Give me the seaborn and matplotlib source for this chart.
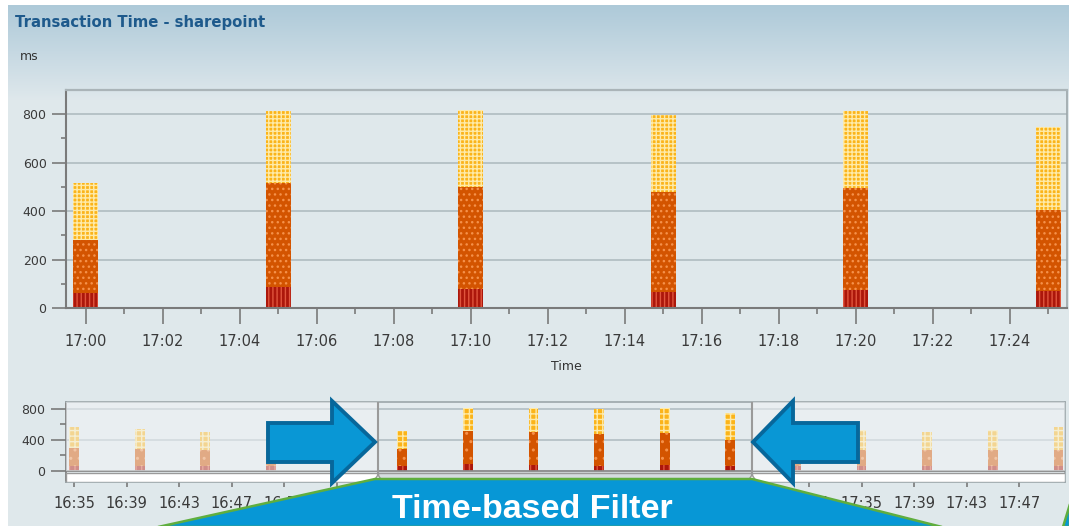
import numpy as np
import pandas as pd
import matplotlib
matplotlib.use("Agg")
import matplotlib.pyplot as plt
from matplotlib.patches import Polygon, Rectangle
import seaborn as sns

plt.rcParams['font.family'] = ['DejaVu Sans']
plt.rcParams['hatch.linewidth'] = 1.0

# 데이터 (5분 간격 트랜잭션 시간, ms)
times = ["16:35", "16:40", "16:45", "16:50", "16:55", "17:00", "17:05", "17:10",
         "17:15", "17:20", "17:25", "17:30", "17:35", "17:40", "17:45", "17:50"]
red_ms = [65, 62, 60, 65, 65, 62, 87, 78, 66, 74, 70, 65, 65, 62, 65, 65]
orange_ms = [232, 218, 215, 215, 220, 218, 428, 421, 412, 421, 334, 215, 205, 208, 205, 205]
yellow_ms = [271, 262, 232, 260, 235, 235, 297, 317, 318, 317, 342, 260, 260, 237, 260, 298]

main_ticks = ["17:00", "17:02", "17:04", "17:06", "17:08", "17:10", "17:12",
              "17:14", "17:16", "17:18", "17:20", "17:22", "17:24"]
ov_ticks = ["16:35", "16:39", "16:43", "16:47", "16:51", "16:55", "16:59", "17:03",
            "17:07", "17:11", "17:15", "17:19", "17:23", "17:27", "17:31", "17:35",
            "17:39", "17:43", "17:47"]
main_yticks = [0, 200, 400, 600, 800]
ov_yticks = [0, 400, 800]

main_window = ("17:00", "17:25")        # 상세 차트에 표시되는 구간
main_xrange = ("16:59:29", "17:25:29")
ov_xrange = ("16:34:23", "17:50:30")
selection = ("16:58:10", "17:26:40")    # 시간 필터 선택 구간
covered = ("16:53", "17:29")            # 콜아웃에 가려지는 눈금 라벨

W, H = 1069, 526
base = pd.Timestamp("2000-01-01 16:35")


def to_min(labels):
    t = pd.to_datetime(["2000-01-01 " + s for s in labels])
    return np.asarray((t - base).total_seconds() / 60.0)


def fx(x):
    return x / W


def fy(y):
    return 1 - y / H


df = pd.DataFrame({"time": times, "red": red_ms, "orange": orange_ms, "yellow": yellow_ms})
df["minute"] = to_min(df["time"])
df["lvl1"] = df["red"]
df["lvl2"] = df["red"] + df["orange"]
df["lvl3"] = df["lvl2"] + df["yellow"]

fig = plt.figure(figsize=(W / 100, H / 100), dpi=100)

# 배경 그라데이션
bg = fig.add_axes([0, 0, 1, 1], zorder=-10)
rows = np.arange(H)
top = np.array([0.68, 0.79, 0.85])
mid = np.array([0.875, 0.91, 0.925])
t = np.clip((rows - 5) / 95.0, 0, 1)[:, None]
col = top * (1 - t) + mid * t
img = np.repeat(col[:, None, :], W, axis=1)
img[:5, :, :] = 1.0
img[:, :8, :] = 1.0
bg.imshow(img, extent=[0, W, H, 0], aspect="auto")
bg.set_xlim(0, W)
bg.set_ylim(H, 0)
bg.axis("off")

layers = [("lvl3", "#fbb41a", "#feeaa8", "++++"),
          ("lvl2", "#d35400", "#f5914a", "..."),
          ("lvl1", "#ac170b", "#e0553d", "||||")]


def draw_stack(ax, data, width, hatches=None):
    for i, (col_name, face, hcol, hatch) in enumerate(layers):
        h = hatch if hatches is None else hatches[i]
        sns.barplot(data=data, x="minute", y=col_name, native_scale=True, orient="x",
                    width=width, color=face, edgecolor=hcol, linewidth=0, hatch=h,
                    saturation=1, errorbar=None, ax=ax, zorder=2)


# 메인 차트
ax = fig.add_axes([fx(66), fy(308), (1067 - 66) / W, (308 - 90) / H])
ax.set_facecolor("none")
win = df[(df["minute"] >= to_min([main_window[0]])[0]) & (df["minute"] <= to_min([main_window[1]])[0])]
draw_stack(ax, win, 0.13)
ax.set_ylim(0, 899)
ax.set_xlim(*to_min(main_xrange))
mt = to_min(main_ticks)
ax.set_xticks(mt)
ax.set_xticklabels(main_ticks)
ax.set_xticks(mt + 1, minor=True)
ax.set_yticks(main_yticks)
ax.set_yticks([100, 300, 500, 700], minor=True)
ax.set_xlabel("")
ax.set_ylabel("")
ax.yaxis.grid(True, which="major", color="#b6c2c7", lw=1.4, zorder=1)
ax.tick_params(axis="x", which="major", length=11.5, width=1.2, color="#7a7a7a",
               labelsize=10.5, labelcolor="#3a3a3a", pad=7)
ax.tick_params(axis="x", which="minor", length=4.3, width=1.2, color="#7a7a7a")
ax.tick_params(axis="y", which="major", length=10, width=1.2, color="#7a7a7a",
               labelsize=9, labelcolor="#3a3a3a", pad=4)
ax.tick_params(axis="y", which="minor", length=3.6, width=1.2, color="#7a7a7a")
for s in ["left", "bottom"]:
    ax.spines[s].set_color("#7a7a7a")
    ax.spines[s].set_linewidth(1.5)
ax.spines["top"].set_color("#aab4b8")
ax.spines["top"].set_linewidth(1.6)
ax.spines["right"].set_color("#9ca6aa")
ax.spines["right"].set_linewidth(1.2)

# 개요 차트 (시간 필터)
ov = fig.add_axes([fx(66), fy(482), (1065 - 66) / W, (482 - 402) / H])
ov.set_facecolor("#e4ebee")
draw_stack(ov, df, 0.15, hatches=["+++", "..", "|||"])
ov_top = 890
ov.set_ylim(-142, ov_top)
x0, x1 = to_min(ov_xrange)
ov.set_xlim(x0, x1)
ot = to_min(ov_ticks)
c0, c1 = to_min(covered)
ov.set_xticks(ot)
ov.set_xticklabels([lab if not (c0 < m < c1) else "" for lab, m in zip(ov_ticks, ot)])
ov.set_yticks(ov_yticks)
ov.set_yticks([200, 600], minor=True)
ov.set_xlabel("")
ov.set_ylabel("")
for yv in [400, 800]:
    ov.axhline(yv, color="#b6c2c7", lw=1.3, zorder=1)
ov.axhline(0, color="#8a8a8a", lw=1.3, zorder=3)
ov.tick_params(axis="x", length=3.8, width=1.2, color="#7a7a7a", labelsize=10.5,
               labelcolor="#3a3a3a", pad=6)
ov.tick_params(axis="y", which="major", length=11, width=1.2, color="#7a7a7a",
               labelsize=9, labelcolor="#3a3a3a", pad=4)
ov.tick_params(axis="y", which="minor", length=4, width=1.2, color="#7a7a7a")
for s in ov.spines.values():
    s.set_color("#9ca6aa")
    s.set_linewidth(1.2)
ov.spines["left"].set_color("#7a7a7a")

s0, s1 = to_min(selection)
ov.add_patch(Rectangle((x0, -142), x1 - x0, 116, facecolor="white", edgecolor="#9a9a9a",
                       lw=1.0, zorder=3))
ov.add_patch(Rectangle((s0, -142), s1 - s0, 116, facecolor="#d5dcdf", edgecolor="#9a9a9a",
                       lw=1.0, zorder=3))
ov.add_patch(Rectangle((x0, 0), s0 - x0, ov_top, facecolor="#eef2f4", alpha=0.55,
                       lw=0, zorder=4))
ov.add_patch(Rectangle((s1, 0), x1 - s1, ov_top, facecolor="#eef2f4", alpha=0.55,
                       lw=0, zorder=4))
ov.vlines([s0, s1], -90, ov_top, color="#9a9a9a", lw=1.5, zorder=5)

# 텍스트
fig.text(fx(15), fy(22), "Transaction Time - sharepoint", ha="left", va="center",
         fontsize=10.7, fontweight="bold", color="#1e5a8c")
fig.text(fx(20), fy(57), "ms", ha="left", va="center", fontsize=9, color="#333333")
fig.text(fx(566), fy(366), "Time", ha="center", va="center", fontsize=9, color="#333333")


def fig_poly(pts, **kw):
    p = Polygon([(fx(x), fy(y)) for x, y in pts], closed=True,
                transform=fig.transFigure, **kw)
    fig.add_artist(p)


# 선택 핸들
for hx in [378, 752]:
    fig_poly([(hx - 5, 482), (hx + 5, 482), (hx, 475)], facecolor="white",
             edgecolor="#9a9a9a", lw=1, zorder=6)

# 화살표
arrow_kw = dict(facecolor="#0997d5", edgecolor="#07679b", lw=2.8, zorder=7, joinstyle="miter")
fig_poly([(268, 423), (332, 423), (332, 401), (375, 442), (332, 483), (332, 462), (268, 462)],
         **arrow_kw)
fig_poly([(753, 442), (793, 401), (793, 423), (858, 423), (858, 462), (793, 462), (793, 483)],
         **arrow_kw)

# 콜아웃
call_kw = dict(facecolor="#0797d6", edgecolor="#5fae3e", lw=1.8, zorder=8)
fig_poly([(158, 527), (375, 479), (752, 479), (942, 527)], **call_kw)
fig_poly([(1063, 527), (1070, 504), (1070, 527)], **call_kw)
fig.text(fx(532), fy(518), "Time-based Filter", ha="center", va="baseline",
         fontsize=24.5, fontweight="bold", color="white",
         family=["Liberation Sans", "DejaVu Sans"], zorder=9)

fig.savefig("out.png", dpi=100)
